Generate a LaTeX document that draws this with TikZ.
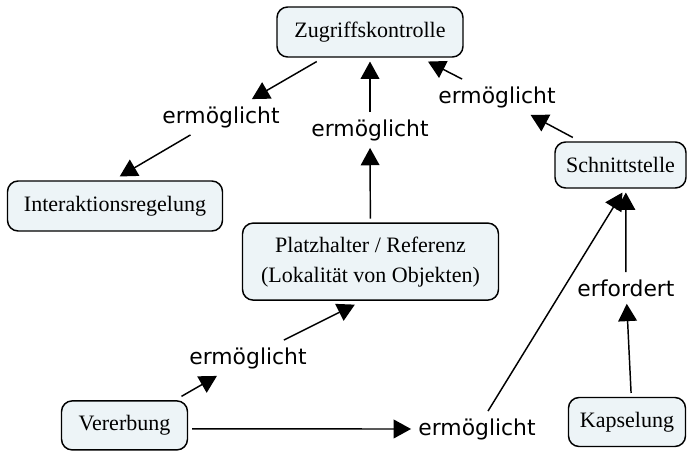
\documentclass[tikz,border=0pt]{standalone}
\usepackage{fontspec}
\setmainfont{Liberation Serif}
\newfontfamily\labelfont{DejaVu Sans}
\usetikzlibrary{arrows.meta}
\definecolor{conceptfill}{RGB}{237,244,247}
\begin{document}
\begin{tikzpicture}[x=0.75pt,y=-0.75pt,
  concept/.style={draw=black, line width=1.1pt, fill=conceptfill, rounded corners=8pt,
    font=\fontsize{16.5}{22.5}\selectfont, align=center, outer sep=3.4pt, inner sep=0pt},
  linklabel/.style={font=\labelfont\fontsize{16.4}{20}\selectfont, inner sep=1.5pt, outer sep=4pt},
  conn/.style={line width=1.1pt, -{Triangle[length=13pt,width=14pt]}}]
\useasboundingbox (0,0) rectangle (687,451);
% concepts
\node[concept, minimum width=139.5pt, minimum height=37.5pt] (Z) at (370,32) {Zugriffskontrolle};
\node[concept, minimum width=161.25pt, minimum height=37.5pt] (I) at (115,206) {Interaktionsregelung};
\node[concept, minimum width=192pt, minimum height=57.75pt] (P) at (370.5,261.6) {Platzhalter / Referenz\\(Lokalität von Objekten)};
\node[concept, minimum width=98.25pt, minimum height=34.5pt] (S) at (620.5,165) {Schnittstelle};
\node[concept, minimum width=94.5pt, minimum height=36.75pt] (V) at (124.5,425.4) {Vererbung};
\node[concept, minimum width=87.75pt, minimum height=36.75pt] (K) at (627,422) {Kapselung};
% link labels
\node[linklabel] (L1) at (221,117) {ermöglicht};
\node[linklabel] (L2) at (370,130) {ermöglicht};
\node[linklabel] (L3) at (497,97) {ermöglicht};
\node[linklabel] (L4) at (248,358) {ermöglicht};
\node[linklabel] (L5) at (477,429) {ermöglicht};
\node[linklabel] (L6) at (626,288) {erfordert};
% connectors
\draw[conn] (Z.209) -- (L1);
\draw[conn] (L1) -- (I.81);
\draw[conn] (P) -- (L2);
\draw[conn] (L2) -- (Z);
\draw[conn] (S.150) -- (L3);
\draw[conn] (L3) -- (Z.333);
\draw[conn] (V.27) -- (L4);
\draw[conn] (L4) -- (P.250);
\draw[conn] (V.357) -- (L5);
\draw[conn] (L5) -- (S.274);
\draw[conn] (K.82) -- (L6);
\draw[conn] (L6) -- (S.281);
\end{tikzpicture}
\end{document}
